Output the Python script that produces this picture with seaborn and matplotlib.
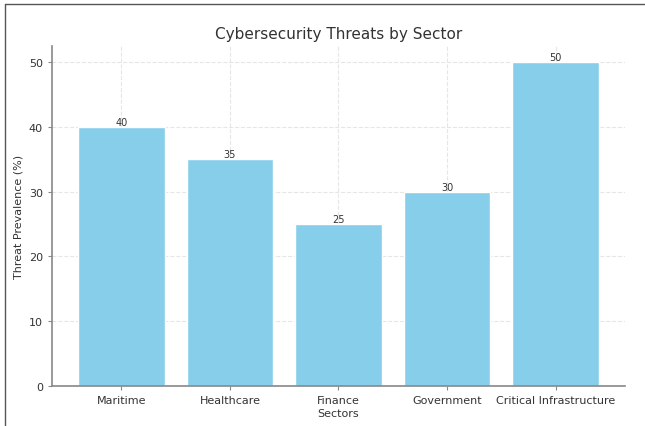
import matplotlib
matplotlib.use("Agg")
import matplotlib.pyplot as plt
import seaborn as sns
import pandas as pd
from matplotlib.lines import Line2D

sectors = ["Maritime", "Healthcare", "Finance", "Government", "Critical Infrastructure"]
prevalence = [40, 35, 25, 30, 50]

df = pd.DataFrame({"Sector": sectors, "Prevalence": prevalence})

sns.set_style("white")
plt.rcParams["font.family"] = ["DejaVu Sans"]

fig = plt.figure(figsize=(6.45, 4.27), dpi=100)
ax = fig.add_axes([0.0806, 0.0937, 0.8884, 0.7963])

sns.barplot(data=df, x="Sector", y="Prevalence", color="skyblue", saturation=1,
            width=0.8, ax=ax, zorder=2)
ax.set_xlim(-0.64, 4.64)
ax.set_ylim(0, 52.5)
ax.set_yticks([0, 10, 20, 30, 40, 50])

for c in ax.containers:
    ax.bar_label(c, fmt="%d", fontsize=7, color="#333333", padding=0)

ax.grid(True, color="#e6e6e6", linestyle="--", linewidth=0.8, zorder=0)
ax.set_axisbelow(True)
for s in ["top", "right"]:
    ax.spines[s].set_visible(False)
for s in ["left", "bottom"]:
    ax.spines[s].set_color("#888888")
    ax.spines[s].set_linewidth(1.2)
ax.tick_params(axis="both", labelsize=8, colors="#333333", length=3, width=0.8,
               left=True, bottom=True)
ax.tick_params(axis="both", color="#888888")

ax.set_title("Cybersecurity Threats by Sector", fontsize=11, color="#333333", pad=6)
ax.set_xlabel("Sectors", fontsize=8, color="#333333", labelpad=2)
ax.set_ylabel("Threat Prevalence (%)", fontsize=8, color="#333333")

fig.add_artist(Line2D([5/645, 5/645], [0, 1 - 5/427], transform=fig.transFigure,
                      color="#555555", linewidth=1))
fig.add_artist(Line2D([5/645, 1], [1 - 5/427, 1 - 5/427], transform=fig.transFigure,
                      color="#555555", linewidth=1))

fig.savefig("out.png", dpi=100)
